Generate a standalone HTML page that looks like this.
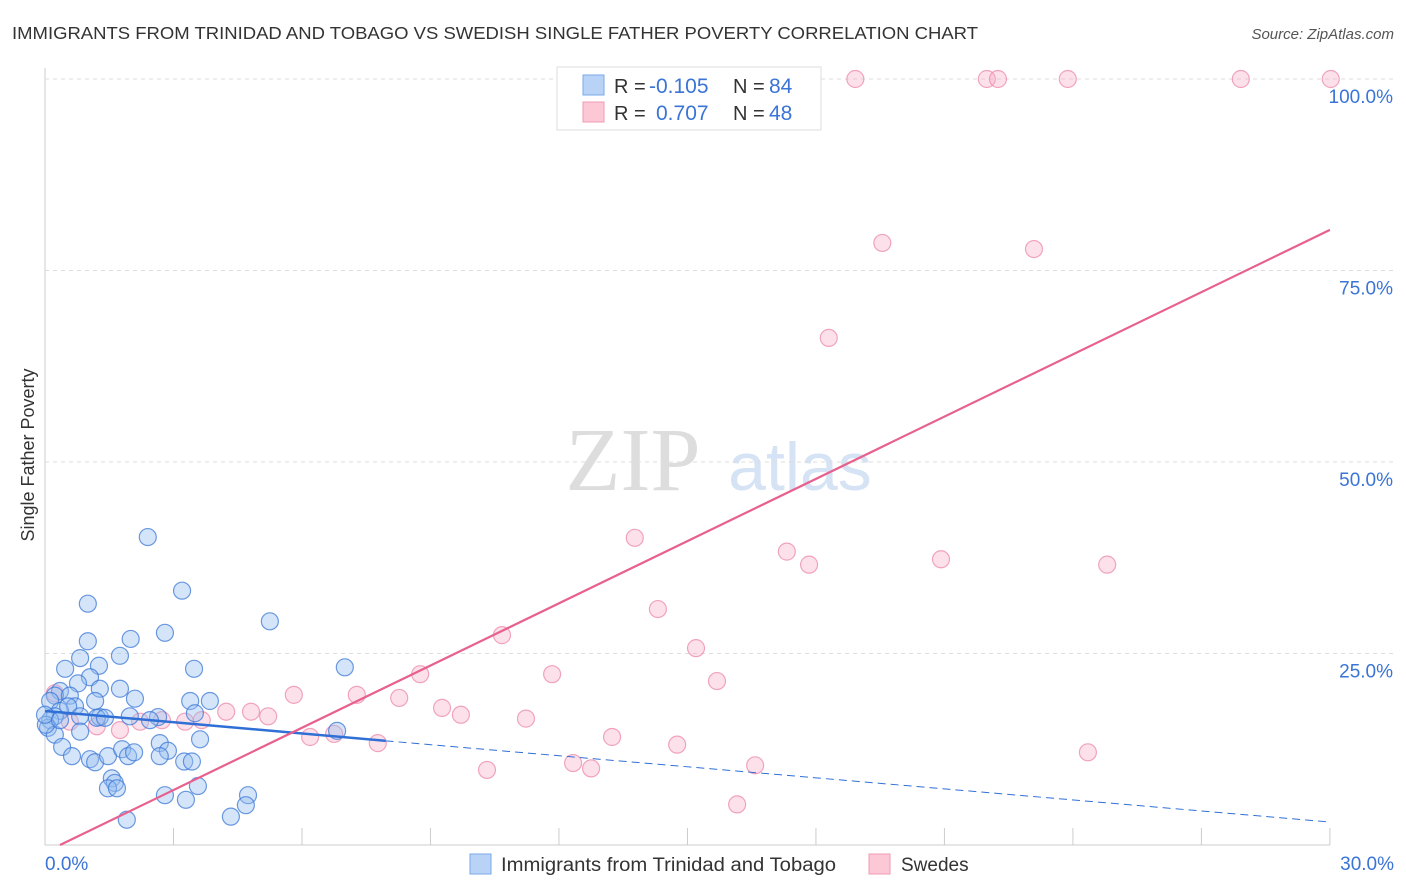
<!DOCTYPE html>
<html><head><meta charset="utf-8"><style>
body{margin:0;background:#fff;font-family:"Liberation Sans",sans-serif;}
svg{display:block}
</style></head><body>
<svg id="chart" width="1406" height="892">
<text x="12" y="39" font-size="17.5" fill="#333" textLength="966" lengthAdjust="spacingAndGlyphs">IMMIGRANTS FROM TRINIDAD AND TOBAGO VS SWEDISH SINGLE FATHER POVERTY CORRELATION CHART</text>
<text x="1394" y="39" font-size="15" fill="#555" font-style="italic" text-anchor="end">Source: ZipAtlas.com</text>
<text x="34" y="455" font-size="18" fill="#333" transform="rotate(-90 34 455)" text-anchor="middle">Single Father Poverty</text>
<g><text x="633" y="490" font-size="90" fill="#ddd" font-family="Liberation Serif" text-anchor="middle">ZIP</text><text x="800" y="490" font-size="68" fill="#d5e3f5" text-anchor="middle">atlas</text></g>
<g id="grid"></g><g id="ticks"></g><g id="pts"></g><g id="lines"></g>
<g>
<rect x="557" y="67" width="264" height="63" fill="#fff" stroke="#ddd"/>
<rect x="583" y="75" width="21" height="20" fill="#b8d3f6" stroke="#7aaae8"/>
<rect x="583" y="102" width="21" height="20" fill="#fcc8d6" stroke="#f09ab3"/>
<text x="614" y="93" font-size="20" fill="#333">R =</text><text x="649" y="93" font-size="21" fill="#3a74d6">-0.105</text>
<text x="733" y="93" font-size="20" fill="#333">N =</text><text x="769" y="93" font-size="21" fill="#3a74d6">84</text>
<text x="614" y="120" font-size="20" fill="#333">R =</text><text x="656" y="120" font-size="21" fill="#3a74d6">0.707</text>
<text x="733" y="120" font-size="20" fill="#333">N =</text><text x="769" y="120" font-size="21" fill="#3a74d6">48</text>
</g>
<g>
<rect x="470" y="854" width="21" height="20" fill="#b8d3f6" stroke="#7aaae8"/>
<text x="501" y="871" font-size="19" fill="#333" textLength="335" lengthAdjust="spacingAndGlyphs">Immigrants from Trinidad and Tobago</text>
<rect x="869" y="854" width="21" height="20" fill="#fcc8d6" stroke="#f09ab3"/>
<text x="901" y="871" font-size="19" fill="#333">Swedes</text>
</g>
</svg>
<script>
const xTicks=[0,3,6,9,12,15,18,21,24,27,30];
const yTicks=[25,50,75,100];
const yTickLabels=["25.0%","50.0%","75.0%","100.0%"];
const blueX=[2.4,3.2,1.0,2.8,5.25,1.0,2.0,1.75,0.82,3.48,0.47,1.26,1.05,7.0,0.77,1.75,1.28,2.1,3.85,3.39,3.5,0.35,0.23,0.12,0.58,0.7,0.35,0.54,1.17,0.82,0.23,1.28,1.98,2.64,0.12,0.07,0.23,0.82,1.21,6.82,3.62,2.68,2.87,0.4,0.63,1.05,1.17,1.47,1.8,1.94,2.08,2.68,3.25,3.43,1.56,1.63,1.47,1.68,3.57,2.8,3.29,4.74,4.69,4.34,1.91,0.02,0.0,0.35,1.4,2.45];
const blueY=[40.2,33.2,31.5,27.7,29.2,26.6,26.9,24.7,24.4,23.0,23.0,23.4,21.9,23.2,21.1,20.4,20.4,19.1,18.8,18.8,17.2,20.1,19.5,18.8,19.5,18.1,17.5,18.1,18.8,16.8,16.8,16.7,16.8,16.7,16.3,15.3,14.4,14.8,16.6,14.9,13.8,13.3,12.3,12.8,11.6,11.2,10.8,11.6,12.5,11.6,12.1,11.6,10.9,10.9,8.7,8.1,7.4,7.4,7.7,6.5,5.9,6.5,5.2,3.7,3.3,15.7,17.0,16.3,16.6,16.3];
const pinkX=[18.92,21.99,22.25,23.88,27.92,30.02,19.55,23.09,18.3,13.77,17.32,17.84,20.92,24.8,14.31,10.67,15.2,8.76,11.84,15.69,5.81,7.28,8.27,9.27,9.71,11.23,4.23,4.81,5.21,3.66,2.73,3.27,2.22,1.75,1.21,0.58,0.23,6.19,6.75,7.77,13.24,14.76,24.35,10.32,12.33,12.75,16.58,16.16];
const pinkY=[100,100,100,100,100,100,78.6,77.8,66.2,40.1,38.3,36.6,37.3,36.6,30.8,27.4,25.7,22.3,22.3,21.4,19.6,19.6,19.2,17.9,17.0,16.5,17.4,17.4,16.8,16.3,16.3,16.1,16.1,15.0,15.5,16.1,19.8,14.1,14.5,13.3,14.1,13.1,12.1,9.8,10.7,10.0,10.4,5.3];
const blueTrendX=[0,7.95,30]; const blueTrendY=[17.5,13.6,3.0];
const pinkTrendX=[0.35,30]; const pinkTrendY=[0,80.3];
const sx=v=>45+v*42.83, sy=v=>845-v*7.66;
const NS="http://www.w3.org/2000/svg";
function mk(tag,attrs,parent){const e=document.createElementNS(NS,tag);for(const k in attrs)e.setAttribute(k,attrs[k]);document.getElementById(parent).appendChild(e);return e;}
let ax=mk('line',{x1:45,y1:68,x2:45,y2:845,stroke:'#ccc'},'grid');


let bx=mk('line',{x1:45,y1:845,x2:1330,y2:845,stroke:'#ccc'},'grid');


yTicks.forEach((t,i)=>{
 const g=mk('line',{x1:45,x2:1394,y1:sy(t),y2:sy(t),stroke:'#ddd','stroke-dasharray':'4,4'},'grid');
 
 
 const l=mk('text',{x:1393,y:sy(t)+24,'font-size':19,fill:'#3a74d6','text-anchor':'end'},'ticks');
 l.textContent=yTickLabels[i];
 
 
});
xTicks.forEach(t=>{
 const k=mk('line',{x1:sx(t),x2:sx(t),y1:828,y2:845,stroke:'#ccc'},'ticks');
 
 
});
[[0,"0.0%",'start',45],[30,"30.0%",'end',1394]].forEach(([t,s,a,x])=>{
 const l=mk('text',{x:x,y:870,'font-size':19,fill:'#3a74d6','text-anchor':a},'ticks');
 l.textContent=s;
 
 
});
pinkX.forEach((x,i)=>{
 const c=mk('circle',{cx:sx(x),cy:sy(pinkY[i]),r:8.5,fill:'rgba(248,170,195,0.35)',stroke:'rgba(235,130,165,0.7)','stroke-width':1.2},'pts');
 
 
});
blueX.forEach((x,i)=>{
 const c=mk('circle',{cx:sx(x),cy:sy(blueY[i]),r:8.5,fill:'rgba(150,190,240,0.4)',stroke:'rgba(60,120,215,0.75)','stroke-width':1.2},'pts');
 
 
});
const b1=mk('line',{x1:sx(blueTrendX[0]),y1:sy(blueTrendY[0]),x2:sx(blueTrendX[1]),y2:sy(blueTrendY[1]),stroke:'#2f6fd6','stroke-width':2.5},'lines');


const b2=mk('line',{x1:sx(blueTrendX[1]),y1:sy(blueTrendY[1]),x2:sx(blueTrendX[2]),y2:sy(blueTrendY[2]),stroke:'#2f6fd6','stroke-width':1,'stroke-dasharray':'8,5'},'lines');


const p1=mk('line',{x1:sx(pinkTrendX[0]),y1:sy(pinkTrendY[0]),x2:sx(pinkTrendX[1]),y2:sy(pinkTrendY[1]),stroke:'#e8608e','stroke-width':2.2},'lines');


</script>
</body></html>
